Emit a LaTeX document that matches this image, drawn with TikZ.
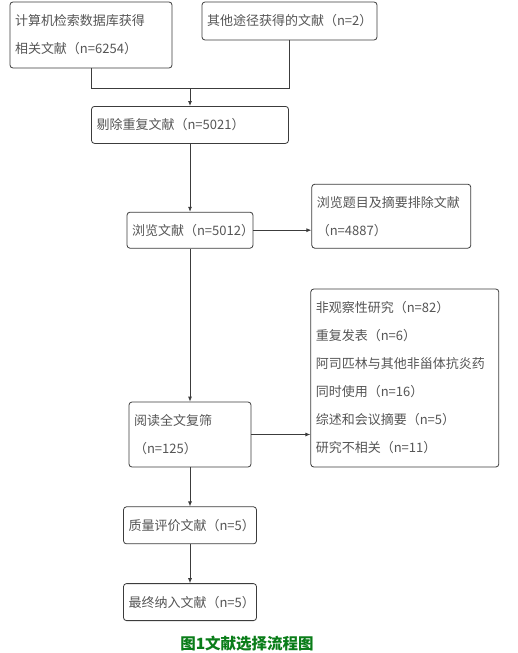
\documentclass[tikz,border=0pt]{standalone}
\usepackage{xcolor}
\usepackage{fontspec}
\setmainfont{Noto Sans CJK SC}
\usepackage{tikz}
\usetikzlibrary{arrows.meta,positioning,calc}
\definecolor{boxline}{RGB}{60,60,60}
\definecolor{boxtext}{RGB}{85,85,85}
\definecolor{capgreen}{RGB}{10,125,25}

\begin{document}
\begin{tikzpicture}[
  node distance=39pt,
  stage/.style={draw=boxline,fill=white,rounded corners=3pt,line width=0.8pt,
    align=left,text=boxtext,font=\fontsize{13pt}{28pt}\selectfont,
    inner xsep=5pt,inner ysep=0pt},
  captext/.style={text=capgreen,font=\fontsize{15.5pt}{18pt}\selectfont\bfseries},
  link/.style={draw=boxline,line width=0.8pt},
  arrow/.style={-{Latex[length=5pt,width=4pt]},draw=boxline,line width=0.8pt}
]
\useasboundingbox[fill=white] (0,0) rectangle (517pt,-653pt);
\node[stage,text width=152pt,minimum height=66pt] (search) at (91pt,-35pt)
  {计算机检索数据库获得\\相关文献（n=6254）};
\node[stage,text width=165pt,minimum height=38pt] (other) at (289.5pt,-21pt)
  {其他途径获得的文献（n=2）};
\coordinate (join) at (190pt,-88pt);
\node[stage,text width=187pt,minimum height=37pt,below=18pt of join] (dedup)
  {剔除重复文献（n=5021）};
\node[stage,text width=116pt,minimum height=36pt,below=68pt of dedup] (browse)
  {浏览文献（n=5012）};
\node[stage,text width=149pt,minimum height=64pt,right=58pt of browse,yshift=14pt] (abstract)
  {浏览题目及摘要排除文献\\（n=4887）};
\node[stage,text width=112pt,minimum height=65pt,below=153pt of browse] (fulltext)
  {阅读全文复筛\\（n=125）};
\node[stage,text width=178pt,minimum height=178pt,right=59pt of fulltext,yshift=56.5pt] (reasons)
  {非观察性研究（n=82）\\重复发表（n=6）\\阿司匹林与其他非甾体抗炎药\\同时使用（n=16）\\综述和会议摘要（n=5）\\研究不相关（n=11）};
\node[stage,text width=123pt,minimum height=37pt,below=of fulltext] (quality)
  {质量评价文献（n=5）};
\node[stage,text width=123pt,minimum height=37pt,below=of quality] (final)
  {最终纳入文献（n=5）};
\node[captext,below=12pt of final,xshift=57pt] (caption) {图1文献选择流程图};
\draw[link] (search.south) |- (join);
\draw[link] (other.south) |- (join);
\draw[arrow] (join) -- (dedup);
\draw[arrow] (dedup) -- (browse);
\draw[arrow] (browse.east) -- (browse.east -| abstract.west);
\draw[arrow] (browse) -- (fulltext);
\draw[arrow] (fulltext.east) -- (fulltext.east -| reasons.west);
\draw[arrow] (fulltext) -- (quality);
\draw[arrow] (quality) -- (final);
\end{tikzpicture}
\end{document}
